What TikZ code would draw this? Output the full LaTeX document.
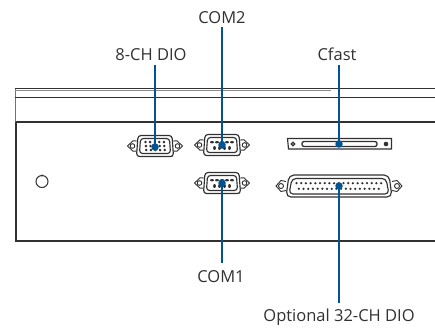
\documentclass[tikz,border=0pt]{standalone}
\usepackage{fontspec}
\setmainfont{Open Sans}
\definecolor{leadblue}{RGB}{0,84,146}
\definecolor{ink}{RGB}{50,48,48}
\tikzset{
  x=1pt,y=-1pt,
  lbl/.style={font=\fontsize{16.5}{20}\selectfont,text=ink,inner sep=0pt,anchor=base},
  edge/.style={line width=1.7pt,draw=ink},
  thin edge/.style={line width=.8pt,draw=ink},
  part/.style={line width=1.15pt,draw=ink},
  pin/.style={fill=ink,draw=none},
  lead/.style={line width=2pt,draw=leadblue},
  hub/.style={circle,fill=leadblue,inner sep=0pt,minimum size=7.5pt},
}
\newcommand{\dsub}[2]{%
  \begin{scope}[shift={(#1,#2)}]
    \fill[black!35] (-17.5,11.4) -- (17.5,11.4) -- (17.5,10) -- (-17.5,10) -- cycle;
    \draw[part,rounded corners=3pt] (-17,-10.5) -- (17,-10.5) -- (18.5,10.5) -- (-18.5,10.5) -- cycle;
    \draw[part,rounded corners=3pt] (-14.5,-7.5) -- (14.5,-7.5) -- (15.5,7.5) -- (-15.5,7.5) -- cycle;
    \foreach \sx in {-1,1}{
      \draw[part,line width=.9pt] (\sx*18,-5) -- (\sx*22,-5.2) -- (\sx*27.5,0) -- (\sx*22,5.2) -- (\sx*18,5) ;
      \draw[part,line width=.9pt] (\sx*22.5,0) circle (2.3);
    }
  \end{scope}}
\newcommand{\ninepin}[2]{%
  \begin{scope}[shift={(#1,#2)}]
    \foreach \px in {-10,-5,0,5,10}{\fill[pin] (\px,-2.8) ellipse (2 and 1.2);}
    \foreach \px in {-7.5,-2.5,2.5,7.5}{\fill[pin] (\px,3) ellipse (1.4 and 2);}
  \end{scope}}
\newcommand{\vgapins}[2]{%
  \begin{scope}[shift={(#1,#2)}]
    \foreach \ry in {-4,0,4}{
      \foreach \i in {-2,...,2}{\fill[pin] ({\i*4.6+(\ry+4)*.1},\ry) circle (1.4);}}
  \end{scope}}
\begin{document}
\begin{tikzpicture}
\useasboundingbox (0,0) rectangle (435,327);
% chassis
\draw[thin edge,draw=black!55] (15,89) -- (15,122);
\draw[line width=.9pt,draw=black!45] (15,90.6) -- (331,90.6);
\draw[edge,line width=1.4pt] (435,88.7) -- (15,88.7);
\draw[thin edge] (15,97) -- (435,97);
\draw[edge] (15.5,122) -- (435,122);
\draw[edge] (15.8,122) -- (15.8,241) -- (435,241);
\draw[line width=1pt,draw=ink] (42,181.5) circle (6);
\fill[ink] (42,175.5) circle (1.2);
% D-sub connectors
\dsub{155}{146} \vgapins{154.7}{146}
\dsub{222}{145} \ninepin{222}{145}
\dsub{222}{183} \ninepin{222}{183}
% Cfast slot
\draw[part] (287.5,138.5) -- (391.5,138.5) -- (391.5,149) -- (288.5,149) -- cycle;
\draw[part,rounded corners=2pt,line width=1.3pt] (302,141.5) rectangle (377,146.5);
\draw[part] (293,144) circle (1.7);
\fill[ink] (386,144) circle (2.3);
% 37-pin connector
\begin{scope}[shift={(339,186)}]
  \draw[part,rounded corners=5pt] (-50,-11) -- (50,-11) -- (53,11) -- (-53,11) -- cycle;
  \draw[part,rounded corners=4pt] (-47,-7.5) -- (47,-7.5) -- (50,8) -- (-50,8) -- cycle;
  \foreach \i in {0,...,18}{\fill[pin] (-42.5+\i*4.7,-2.8) circle (1.25);}
  \foreach \i in {0,...,17}{\fill[pin] (-40.2+\i*4.7,2.8) circle (1.25);}
  \foreach \sx in {-1,1}{
    \draw[part,line width=.9pt] (\sx*53,-4.5) -- (\sx*58,-5.5) -- (\sx*63,0) -- (\sx*58,5.5) -- (\sx*53,4.5);
    \draw[part,line width=.9pt] (\sx*58,0) circle (2.5);
  }
\end{scope}
% labels
\node[lbl] (com2) at (222,23) {COM2};
\node[lbl] (dio8) at (151,60) {8-CH DIO};
\node[lbl] (cfast) at (337,60.5) {Cfast};
\node[lbl] (com1) at (221,282) {COM1};
\node[lbl] (dio32) at (339,321.7) {Optional 32-CH DIO};
% hubs
\node[hub] (h8) at (155,147) {};
\node[hub] (h2) at (222,145) {};
\node[hub] (h1) at (222,183) {};
\node[hub] (hc) at (339,144) {};
\node[hub] (h32) at (339,186) {};
% leads
\draw[lead] ([yshift=-5pt]h8 |- dio8.south) -- (h8.center);
\draw[lead] ([yshift=-4pt]h2 |- com2.south) -- (h2.center);
\draw[lead] (h1.center) -- ([yshift=7pt]h1 |- com1.north);
\draw[lead] ([yshift=-4.5pt]hc |- cfast.south) -- (hc.center);
\draw[lead] (h32.center) -- ([yshift=6pt]h32 |- dio32.north);
\end{tikzpicture}
\end{document}
